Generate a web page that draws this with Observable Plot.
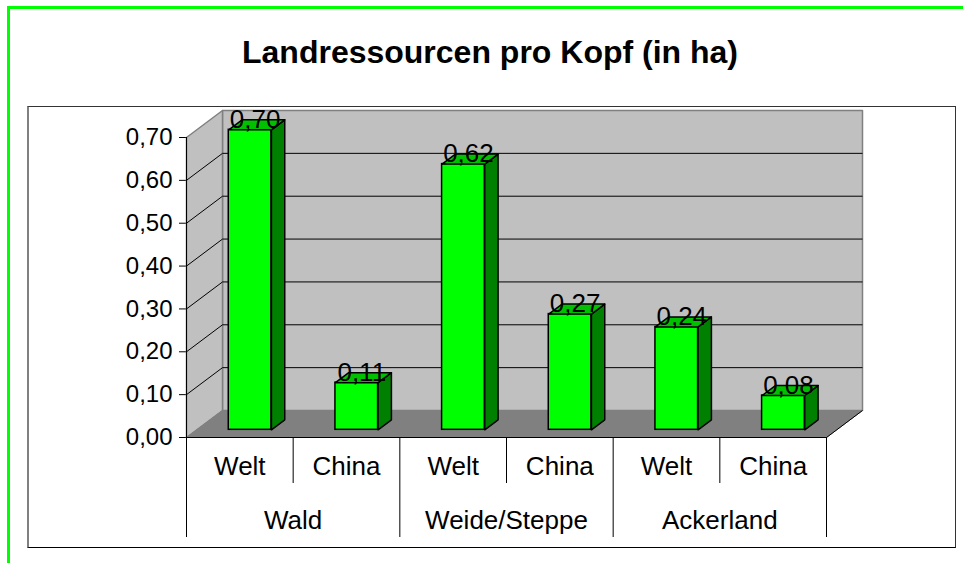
<!DOCTYPE html>
<html><head><meta charset="utf-8">
<script src="https://cdn.jsdelivr.net/npm/d3@7"></script>
<script src="https://cdn.jsdelivr.net/npm/@observablehq/plot@0.6"></script>
<style>
html,body{margin:0;padding:0;background:#fff;}
#wrap{position:relative;width:963px;height:563px;overflow:hidden;font-family:"Liberation Sans",Arial,sans-serif;}
#green{position:absolute;left:7px;top:6px;width:1000px;height:600px;border-top:3px solid #00ff00;border-left:3px solid #00ff00;}
#box{position:absolute;left:27px;top:106px;width:926px;height:440px;border:1px solid #333;border-left:2px solid #808080;border-bottom:1px solid #000;}
#title{position:absolute;left:0;width:980px;top:36px;text-align:center;font-weight:bold;font-size:32px;line-height:32px;color:#000;}
#chart{position:absolute;left:0;top:0;}
</style></head>
<body><div id="wrap"><div id="green"></div><div id="box"></div><div id="title">Landressourcen pro Kopf (in ha)</div><div id="chart"></div></div>
<script>
const groups = ["Wald", "Weide/Steppe", "Ackerland"];
const series = ["Welt", "China"];
const weltValues = [0.70, 0.62, 0.24];
const chinaValues = [0.11, 0.27, 0.08];
const yTicks = [0, 0.1, 0.2, 0.3, 0.4, 0.5, 0.6, 0.7];
const yMax = 0.7;

// layout
const W = 963, H = 563, mL = 186, mR = 137, mT = 137, mB = 126;
const nCat = groups.length * series.length;
const pxCat = (W - mL - mR) / nCat;
const pxVal = (H - mT - mB) / yMax;
const DEPTH_X = 36, DEPTH_Y = 27;          // pixel depth of the 3D box
const DX = DEPTH_X / pxCat, DY = DEPTH_Y / pxVal;
const P = (c, v, d) => ({x: c + d * DX, y: v + d * DY});
const F1 = 0.285, F2 = 0.655;               // bar front / back depth
const BW = 0.4;                             // bar width (fraction of category)
const fmt = v => v.toFixed(2).replace(".", ",");

const bars = [];
groups.forEach((g, gi) => {
  [weltValues[gi], chinaValues[gi]].forEach((v, si) => {
    bars.push({i: gi * series.length + si, group: g, series: series[si], value: v});
  });
});

function poly(id, pts) { return [...pts, pts[0]].map(p => ({...p, id})); }

const sides = bars.flatMap(b => {
  const c1 = b.i + 0.5 + BW / 2;
  return poly(b.i, [P(c1, 0, F1), P(c1, 0, F2), P(c1, b.value, F2), P(c1, b.value, F1)]);
});
const tops = bars.flatMap(b => {
  const c0 = b.i + 0.5 - BW / 2, c1 = b.i + 0.5 + BW / 2;
  return poly(b.i, [P(c0, b.value, F1), P(c1, b.value, F1), P(c1, b.value, F2), P(c0, b.value, F2)]);
});

const backWall = poly("back", [P(0, 0, 1), P(nCat, 0, 1), P(nCat, yMax, 1), P(0, yMax, 1)]);
const sideWall = poly("side", [P(0, 0, 0), P(0, 0, 1), P(0, yMax, 1), P(0, yMax, 0)]);
const floor = poly("floor", [P(0, 0, 0), P(nCat, 0, 0), P(nCat, 0, 1), P(0, 0, 1)]);
const innerTicks = yTicks.filter(t => t > 0 && t < yMax);

const plot = Plot.plot({
  width: W, height: H,
  marginLeft: mL, marginRight: mR, marginTop: mT, marginBottom: mB,
  style: {background: "transparent", fontFamily: "'Liberation Sans', Arial, sans-serif", fontSize: "24px", color: "#000", overflow: "visible"},
  x: {type: "linear", domain: [0, nCat], axis: null},
  y: {type: "linear", domain: [0, yMax], ticks: yTicks, tickFormat: fmt, tickSize: 7, tickPadding: 7, label: null},
  marks: [
    Plot.line(backWall, {x: "x", y: "y", z: "id", fill: "#c0c0c0", stroke: "#808080", strokeWidth: 1.5, curve: "linear"}),
    Plot.line(sideWall, {x: "x", y: "y", z: "id", fill: "#c0c0c0", stroke: "#808080", strokeWidth: 1.5, curve: "linear"}),
    Plot.line(floor, {x: "x", y: "y", z: "id", fill: "#808080", stroke: "#808080", strokeWidth: 1, curve: "linear"}),
    // grid lines on back wall and side wall
    Plot.link(innerTicks, {x1: t => P(0, t, 1).x, y1: t => P(0, t, 1).y, x2: t => P(nCat, t, 1).x, y2: t => P(nCat, t, 1).y, stroke: "#000", strokeWidth: 1}),
    Plot.link(innerTicks, {x1: t => P(0, t, 0).x, y1: t => P(0, t, 0).y, x2: t => P(0, t, 1).x, y2: t => P(0, t, 1).y, stroke: "#000", strokeWidth: 1}),
    // floor right edge
    Plot.link([0], {x1: () => P(nCat, 0, 0).x, y1: () => P(nCat, 0, 0).y, x2: () => P(nCat, 0, 1).x, y2: () => P(nCat, 0, 1).y, stroke: "#000", strokeWidth: 1}),
    // bars: front faces
    Plot.rect(bars, {
      x1: d => d.i + 0.5 - BW / 2 + F1 * DX, x2: d => d.i + 0.5 + BW / 2 + F1 * DX,
      y1: F1 * DY, y2: d => d.value + F1 * DY,
      fill: "#00ff00", stroke: "#000", strokeWidth: 1.5
    }),
    Plot.line(sides, {x: "x", y: "y", z: "id", fill: "#008000", stroke: "#000", strokeWidth: 1.5, strokeLinejoin: "round", curve: "linear"}),
    Plot.line(tops, {x: "x", y: "y", z: "id", fill: "#00c000", stroke: "#000", strokeWidth: 1.5, strokeLinejoin: "round", curve: "linear"}),
    // value labels
    Plot.text(bars, {x: d => d.i + 0.5 + F1 * DX, y: d => d.value + F1 * DY, text: d => fmt(d.value), dx: 5, dy: -2, lineAnchor: "bottom", fontSize: 26}),
    // axes lines
    Plot.ruleX([0], {y1: 0, y2: yMax, stroke: "#000", strokeWidth: 1}),
    Plot.ruleY([0], {x1: 0, x2: nCat, stroke: "#000", strokeWidth: 1}),
    Plot.ruleX(d3.range(nCat + 1), {y1: 0, y2: d => d % series.length === 0 ? -100 / pxVal : -46 / pxVal, stroke: "#000", strokeWidth: 1}),
    // category labels
    Plot.text(bars, {x: d => d.i + 0.5, y: 0, text: "series", dy: 29, fontSize: 26}),
    Plot.text(groups, {x: (d, i) => i * series.length + series.length / 2, y: 0, text: d => d, dy: 83, fontSize: 26})
  ]
});
document.getElementById("chart").appendChild(plot);
</script>
</body></html>
